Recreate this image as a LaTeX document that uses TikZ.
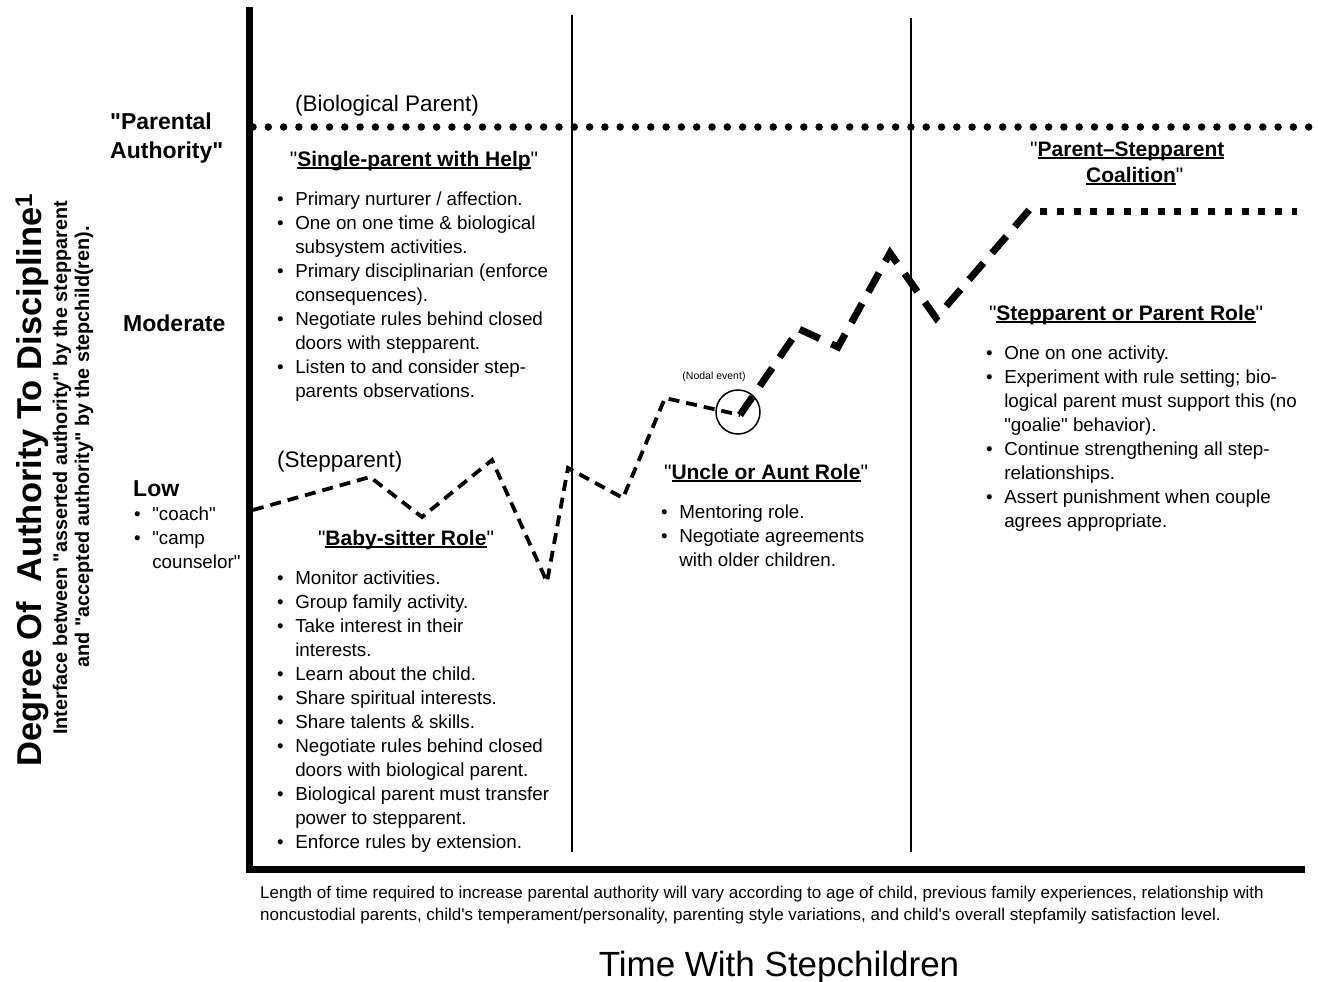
\documentclass[tikz,border=0pt]{standalone}
\usepackage{fontspec}
\setmainfont{Liberation Sans}
\newfontfamily\hel{Liberation Sans}
\usetikzlibrary{positioning}
\newcommand\fsz[2]{\fontsize{#1}{#2}\selectfont}
\newcommand\uln[1]{\setbox0\hbox{#1}\rlap{\rule[-3.2pt]{\wd0}{1.8pt}}\box0}
\newcommand\hd[1]{"\uln{\textbf{#1}}"}
\newcommand\blist[1]{\begin{tabular}[t]{@{}l@{\hspace{11.5pt}}l@{}}#1\end{tabular}}
\newcommand\bu{\textbullet}

\begin{document}
\hel
\begin{tikzpicture}[x=1pt, y=-1pt,
  txt/.style={inner sep=0pt, anchor=base west, font=\fsz{18.8}{24}},
  role/.style={inner sep=0pt, anchor=base, font=\fsz{21}{26}},
  lvl/.style={inner sep=0pt, anchor=base west, font=\fsz{23}{29}\bfseries, align=left},
  thinline/.style={line width=3.8pt, dash pattern=on 11pt off 7pt},
  heavyline/.style={line width=7pt, dash pattern=on 22pt off 13pt}]
\useasboundingbox (0,0) rectangle (1318,982);

% axes and phase separators
\draw[line width=7pt] (249,7) -- (249,869) -- (1305,869);
\draw[line width=1.2pt] (572,15) -- (572,852);
\draw[line width=1.2pt] (911,18) -- (911,852);

% authority levels
\draw[line width=7.5pt, line cap=round, dash pattern=on 0pt off 15.3pt] (253,127) -- (1312,127);
\draw[line width=7pt, dash pattern=on 7pt off 9.8pt] (1040,211) -- (1297,211);

% left axis labels
\node[rotate=90, inner sep=0pt, font=\fsz{34.5}{40}\bfseries] (ttl) at (32,480) {Degree Of\ \ Authority To Discipline\textsuperscript{1}};
\node[rotate=90, inner sep=0pt, font=\fsz{19.8}{23}\bfseries] (sub1) at (62,468) {Interface between "asserted authority" by the stepparent};
\node[rotate=90, inner sep=0pt, font=\fsz{19.8}{23}\bfseries] (sub2) at (84,447) {and "accepted authority" by the stepchild(ren).};

\node[lvl] (high) at (110,158) {"Parental\\Authority"};
\node[lvl] (mod) at (123,331) {Moderate};
\node[lvl] (low) at (133,496) {Low};
\node[txt] (lowlist) at (134,520) {\blist{\bu & "coach"\\ \bu & "camp\\ & counselor"}};

% authority path
\draw[thinline] (253,510) -- (370,477) -- (422,517) -- (492,460) -- (547,582)
  -- (568,468) -- (623,498) -- (665,398) -- (740,415);
\draw[heavyline] (740,415) -- (799,329) -- (838,347) -- (890,253) -- (936,318) -- (1030,209);
\node[draw, circle, line width=1.5pt, minimum size=44pt, inner sep=0pt] (nodal) at (738,412) {};
\node[inner sep=0pt, font=\fsz{10.5}{12}, above=7pt of nodal.north, xshift=-24pt] (nodaltxt) {(Nodal event)};

% phase labels
\node[txt, font=\fsz{22.5}{27}] (bio) at (295,111) {(Biological Parent)};
\node[txt, font=\fsz{22.5}{27}] (step) at (277,467) {(Stepparent)};

\node[role] (single) at (414,166) {\hd{Single-parent with Help}};
\node[txt] (singlelist) at (277,205) {\blist{
 \bu & Primary nurturer / affection.\\
 \bu & One on one time \& biological\\
     & subsystem activities.\\
 \bu & Primary disciplinarian (enforce\\
     & consequences).\\
 \bu & Negotiate rules behind closed\\
     & doors with stepparent.\\
 \bu & Listen to and consider step-\\
     & parents observations.}};

\node[role] (baby) at (406,545) {\hd{Baby-sitter Role}};
\node[txt] (babylist) at (277,584) {\blist{
 \bu & Monitor activities.\\
 \bu & Group family activity.\\
 \bu & Take interest in their\\
     & interests.\\
 \bu & Learn about the child.\\
 \bu & Share spiritual interests.\\
 \bu & Share talents \& skills.\\
 \bu & Negotiate rules behind closed\\
     & doors with biological parent.\\
 \bu & Biological parent must transfer\\
     & power to stepparent.\\
 \bu & Enforce rules by extension.}};

\node[role] (uncle) at (766,479) {\hd{Uncle or Aunt Role}};
\node[txt] (unclelist) at (661,518) {\blist{
 \bu & Mentoring role.\\
 \bu & Negotiate agreements\\
     & with older children.}};

\node[role] (coal1) at (1131,156) {"\uln{\textbf{Parent–Stepparent}}\phantom{"}};
\node[role] (coal2) at (1131,182) {\phantom{"}\uln{\textbf{Coalition}}"};

\node[role] (parent) at (1126,320) {\hd{Stepparent or Parent Role}};
\node[txt] (parentlist) at (986,359) {\blist{
 \bu & One on one activity.\\
 \bu & Experiment with rule setting; bio-\\
     & logical parent must support this (no\\
     & "goalie" behavior).\\
 \bu & Continue strengthening all step-\\
     & relationships.\\
 \bu & Assert punishment when couple\\
     & agrees appropriate.}};

% bottom labels
\node[txt, font=\fsz{17}{22}, align=left] (note) at (260,920) {Length of time required to increase parental authority will vary according to age of child, previous family experiences, relationship with\\noncustodial parents, child's temperament/personality, parenting style variations, and child's overall stepfamily satisfaction level.};
\node[inner sep=0pt, anchor=base, font=\fsz{35}{40}] (time) at (779,976) {Time With Stepchildren};
\end{tikzpicture}
\end{document}
